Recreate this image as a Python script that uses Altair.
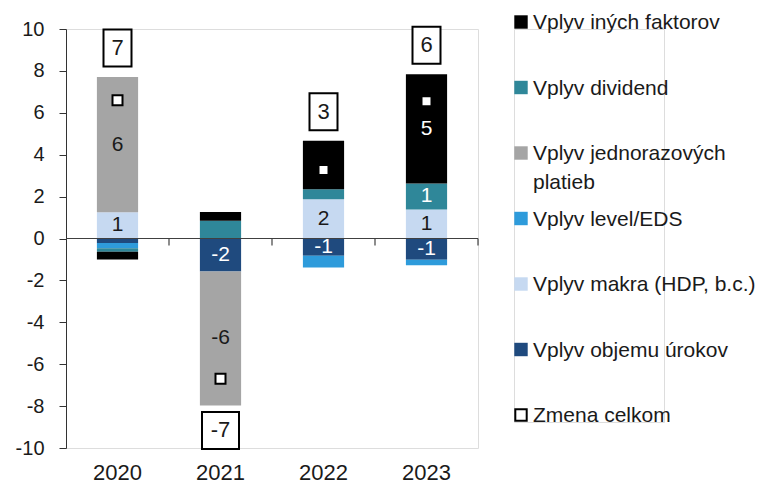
import altair as alt
import pandas as pd

years = ["2020", "2021", "2022", "2023"]

series_names = [
    "Vplyv objemu úrokov",
    "Vplyv makra (HDP, b.c.)",
    "Vplyv level/EDS",
    "Vplyv jednorazových platieb",
    "Vplyv dividend",
    "Vplyv iných faktorov",
]
series_colors = ["#1F4A7E", "#C6D9F1", "#2E9BDB", "#A5A5A5", "#2F8799", "#000000"]
series_text_colors = ["white", "#1a1a1a", "white", "#1a1a1a", "white", "white"]

objemu = [-0.22, -1.57, -0.82, -1.02]
makra = [1.25, 0.0, 1.87, 1.38]
level = [-0.25, 0.0, -0.56, -0.26]
jednoraz = [6.46, -6.40, 0.0, 0.0]
dividend = [-0.16, 0.85, 0.48, 1.25]
ine = [-0.37, 0.41, 2.32, 5.21]

objemu_lbl = ["", "-2", "-1", "-1"]
makra_lbl = ["1", "", "2", "1"]
level_lbl = ["", "", "", ""]
jednoraz_lbl = ["6", "-6", "", ""]
dividend_lbl = ["", "", "", "1"]
ine_lbl = ["", "", "", "5"]

total = [6.6, -6.7, 3.27, 6.55]
total_lbl = ["7", "-7", "3", "6"]

legend_names = [
    "Vplyv iných faktorov",
    "Vplyv dividend",
    "Vplyv jednorazových platieb",
    "Vplyv level/EDS",
    "Vplyv makra (HDP, b.c.)",
    "Vplyv objemu úrokov",
    "Zmena celkom",
]
legend_texts = [
    "Vplyv iných faktorov",
    "Vplyv dividend",
    "Vplyv jednorazových\nplatieb",
    "Vplyv level/EDS",
    "Vplyv makra (HDP, b.c.)",
    "Vplyv objemu úrokov",
    "Zmena celkom",
]

# ---- build tables ----
vals = [objemu, makra, level, jednoraz, dividend, ine]
lbls = [objemu_lbl, makra_lbl, level_lbl, jednoraz_lbl, dividend_lbl, ine_lbl]
rows = []
for k, name in enumerate(series_names):
    for i, y in enumerate(years):
        if vals[k][i] != 0:
            rows.append({"year": y, "series": name, "order": k, "value": vals[k][i],
                         "lbl": lbls[k][i], "tcol": series_text_colors[k]})
seg = pd.DataFrame(rows)

tot_rows = []
for i, y in enumerate(years):
    pos = sum(v[i] for v in vals if v[i] > 0)
    neg = sum(v[i] for v in vals if v[i] < 0)
    tot_rows.append({"year": y, "total": total[i], "lbl": total_lbl[i],
                     "anchor": pos if total[i] > 0 else neg})
tot = pd.DataFrame(tot_rows)

leg = pd.DataFrame({"name": legend_names, "text": legend_texts})

FONT = "Liberation Sans"
TXT = "#1a1a1a"

xenc = alt.X("year:N", sort=years,
             scale=alt.Scale(paddingInner=0.6, paddingOuter=0.3),
             axis=alt.Axis(title=None, domain=False, ticks=False, tickSize=0, labelAngle=0,
                           labelFontSize=22, labelPadding=14, labelColor=TXT))
yscale = alt.Scale(domain=[-10, 10], nice=False, zero=False)

base = alt.Chart(seg).transform_stack(
    stack="value", groupby=["year"], as_=["v0", "v1"], sort=[alt.SortField("order")]
).transform_calculate(mid="(datum.v0 + datum.v1) / 2")

bars = base.mark_bar().encode(
    x=xenc,
    y=alt.Y("v0:Q", scale=yscale,
            axis=alt.Axis(title=None, values=list(range(-10, 11, 2)), grid=False,
                          labelExpr="'' + datum.value",
                          tickSize=7, labelPadding=15, labelFontSize=20, labelColor=TXT,
                          domainColor="#333", tickColor="#333")),
    y2="v1:Q",
    color=alt.Color("series:N", scale=alt.Scale(domain=series_names, range=series_colors), legend=None),
)

seg_text_white = base.transform_filter("datum.tcol == 'white' && datum.lbl != ''").mark_text(
    fontSize=21, color="white", baseline="middle").encode(
    x=alt.X("year:N", sort=years), y=alt.Y("mid:Q"), text="lbl:N")
seg_text_dark = base.transform_filter("datum.tcol != 'white' && datum.lbl != ''").mark_text(
    fontSize=21, color=TXT, baseline="middle").encode(
    x=alt.X("year:N", sort=years), y=alt.Y("mid:Q"), text="lbl:N")

zero_line = alt.Chart(tot).mark_rule(color="#404040", strokeWidth=1.2).encode(y=alt.datum(0))
band_ticks = alt.Chart(tot).mark_rule(color="#404040", strokeWidth=1.2, xOffset=51.5, y2Offset=7).encode(
    x=alt.X("year:N", sort=years), y=alt.datum(0), y2=alt.datum(0))

markers = alt.Chart(tot).mark_point(shape="square", filled=True, fill="white", stroke="black",
                                    strokeWidth=2, size=100, opacity=1).encode(
    x=alt.X("year:N", sort=years), y=alt.Y("total:Q"))

tot_pos = alt.Chart(tot).transform_filter("datum.total > 0")
tot_neg = alt.Chart(tot).transform_filter("datum.total < 0")

box_pos = tot_pos.mark_bar(width=28, fill="white", stroke="black", strokeWidth=2,
                           yOffset=-47.5, y2Offset=-10.5).encode(
    x=alt.X("year:N", sort=years), y=alt.Y("anchor:Q"), y2=alt.Y2("anchor:Q"))
box_neg = tot_neg.mark_bar(width=37, fill="white", stroke="black", strokeWidth=2,
                           yOffset=6.5, y2Offset=43.5).encode(
    x=alt.X("year:N", sort=years), y=alt.Y("anchor:Q"), y2=alt.Y2("anchor:Q"))
boxtxt_pos = tot_pos.mark_text(fontSize=22, color=TXT, dy=-29, baseline="middle").encode(
    x=alt.X("year:N", sort=years), y=alt.Y("anchor:Q"), text="lbl:N")
boxtxt_neg = tot_neg.mark_text(fontSize=22, color=TXT, dy=25, baseline="middle").encode(
    x=alt.X("year:N", sort=years), y=alt.Y("anchor:Q"), text="lbl:N")

main = alt.layer(bars, seg_text_white, seg_text_dark, zero_line, band_ticks,
                 markers, box_pos, box_neg, boxtxt_pos, boxtxt_neg).properties(width=412, height=419)

# ---- legend panel ----
ly = alt.Y("name:N", sort=legend_names, scale=alt.Scale(type="point", padding=0), axis=None)
leg_base = alt.Chart(leg)
leg_sym = leg_base.transform_filter("datum.name != 'Zmena celkom'").mark_square(
    size=180, opacity=1, yOffset=-7).encode(
    x=alt.value(7), y=ly,
    color=alt.Color("name:N", scale=alt.Scale(domain=series_names, range=series_colors), legend=None))
leg_tot = leg_base.transform_filter("datum.name == 'Zmena celkom'").mark_point(
    shape="square", filled=True, fill="white", stroke="black", strokeWidth=2, size=130,
    opacity=1, yOffset=-7).encode(x=alt.value(7), y=ly)
leg_txt = leg_base.mark_text(fontSize=21, color=TXT, align="left", baseline="top", dy=-10,
                             lineBreak="\n", lineHeight=29, yOffset=-7).encode(
    x=alt.value(19), y=ly, text="text:N")
legend = alt.layer(leg_sym, leg_tot, leg_txt).properties(width=150, height=393)

chart = alt.hconcat(main, legend, spacing=36, bounds="flush").properties(
    padding={"left": 6, "top": 3, "right": 0, "bottom": 0}
).configure_view(strokeWidth=0, stroke="transparent").configure(font=FONT)

chart.save("out.html", embed_options={"renderer": "svg", "actions": False})
